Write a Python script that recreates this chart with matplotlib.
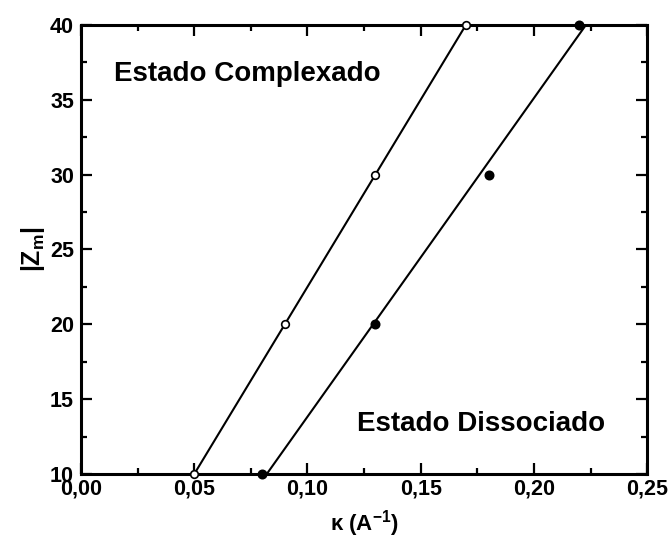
import numpy as np
import matplotlib
matplotlib.use("Agg")
import matplotlib.pyplot as plt
from matplotlib.ticker import MultipleLocator, FuncFormatter

plt.rcParams['font.family'] = ['Liberation Sans', 'DejaVu Sans']
plt.rcParams['font.weight'] = 'bold'

# data
z_vals = [10, 20, 30, 40]
kappa_complex = [0.05, 0.09, 0.13, 0.17]
kappa_dissoc = [0.08, 0.13, 0.18, 0.22]

fig = plt.figure(figsize=(6.72, 5.4), dpi=100)
ax = fig.add_axes([0.1205, 0.122, 0.8425, 0.832])

for kap, face in [(kappa_complex, 'white'), (kappa_dissoc, 'black')]:
    # straight-line fit kappa vs |Zm|
    c = np.polyfit(z_vals, kap, 1)
    zz = np.array([min(z_vals), max(z_vals)])
    ax.plot(np.polyval(c, zz), zz, color='black', lw=1.5, zorder=2)
    ax.plot(kap, z_vals, 'o', mfc=face, mec='black', mew=1.2,
            ms=5.5 if face == 'white' else 6, zorder=3, clip_on=False)

ax.set_xlim(0, 0.25)
ax.set_ylim(10, 40)
ax.xaxis.set_major_locator(MultipleLocator(0.05))
ax.xaxis.set_minor_locator(MultipleLocator(0.025))
ax.yaxis.set_major_locator(MultipleLocator(5))
ax.yaxis.set_minor_locator(MultipleLocator(2.5))
ax.xaxis.set_major_formatter(FuncFormatter(lambda v, p: ('%.2f' % v).replace('.', ',')))
ax.yaxis.set_major_formatter(FuncFormatter(lambda v, p: '%d' % v))

ax.tick_params(which='both', direction='in', top=True, right=True, width=1.6)
ax.tick_params(which='major', length=8, labelsize=15.5, pad=3)
ax.tick_params(axis='y', which='major', pad=5)
ax.tick_params(which='minor', length=4)
for s in ax.spines.values():
    s.set_linewidth(2.2)

ax.set_xlabel(r'$\mathregular{\kappa}$ (A$^{\mathregular{-1}}$)', fontsize=16, fontweight='bold', labelpad=6)
ax.set_ylabel(r'|Z$_{\mathregular{m}}$|', fontsize=18, fontweight='bold', labelpad=2)

ax.text(0.0147, 36.7, 'Estado Complexado', fontsize=20, fontweight='bold', va='center')
ax.text(0.122, 13.35, 'Estado Dissociado', fontsize=20, fontweight='bold', va='center')

fig.savefig('out.png', dpi=100)
